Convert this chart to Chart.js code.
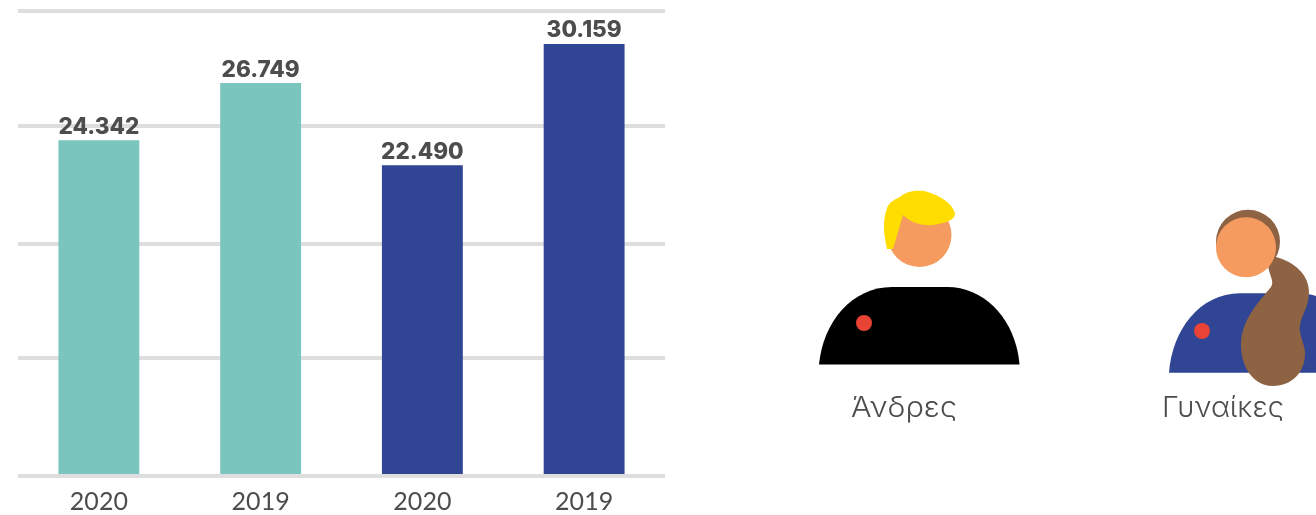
<!DOCTYPE html>
<html>
<head>
<meta charset="utf-8">
<style>
  html, body { margin: 0; padding: 0; background: #fff; width: 1316px; height: 515px; overflow: hidden; }
  #wrap { position: relative; width: 1316px; height: 515px; overflow: hidden; }
  #chart { position: absolute; left: 0; top: 0; }
  #people { position: absolute; left: 0; top: 0; }
</style>
<script src="https://cdn.jsdelivr.net/npm/chart.js@4/dist/chart.umd.min.js"></script>
</head>
<body>
<div id="wrap">
  <canvas id="chart" width="1316" height="528"></canvas>
  <svg id="people" width="1316" height="515" viewBox="0 0 1316 515">
    <!-- man -->
    <circle cx="919.5" cy="235" r="32" fill="#f59b5f"/>
    <path d="M887 249 C884 235 882 222 887 208 C890 201 896 199 900 197 C908 190 920 190 928 192 C940 196 952 203 955 213 C955 219 950 222 934 225 C920 226 910 222 903 215 L893 249 Z" fill="#ffdd00"/>
    <path d="M819 364.5 C823 322 852 287 892 287 L947 287 C987 287 1016 322 1019.5 364.5 Z" fill="#000"/>
    <circle cx="864" cy="323" r="8" fill="#e94335"/>
    <text x="851" y="417" textLength="106" lengthAdjust="spacingAndGlyphs" font-family="Inter, sans-serif" font-size="28" font-weight="300" fill="#4d4d4d">Άνδρες</text>
    <!-- woman -->
    <path d="M1169 372.7 C1172 330 1200 293.3 1240 293.3 L1298 293.3 C1338 293.3 1366 330 1369 372.7 Z" fill="#304594"/>
    <circle cx="1202" cy="331" r="8" fill="#e94335"/>
    <circle cx="1248" cy="241.7" r="32" fill="#8e6344"/>
    <path d="M1275 256.7 C1295 262 1309 275 1309 292 C1309 310 1298 318 1300 332 C1302 342 1305 345 1305 354 C1305 372 1292 386 1273 386 C1254 386 1241 368 1241 345 C1241 320 1258 303 1271 287 C1275 280 1268 275 1268 262 Z" fill="#8e6344"/>
    <circle cx="1246" cy="247.3" r="30" fill="#f59b5f"/>
    <text x="1162" y="417" textLength="122" lengthAdjust="spacingAndGlyphs" font-family="Inter, sans-serif" font-size="28" font-weight="300" fill="#4d4d4d">Γυναίκες</text>
  </svg>
</div>
<script>
// Categories and value labels as printed
const categories = ["2020", "2019", "2020", "2019"];
const valueLabels = ["24.342", "26.749", "22.490", "30.159"];
// Bar heights (the drawn bars are not exactly in proportion to the printed numbers)
const barHeights = [23100, 27040, 21380, 29730];
const barColors = ["#7ac6bf", "#7ac6bf", "#304594", "#304594"];
// Gridline levels
const gridLevels = [0, 8140, 16000, 24100, 32000];

// Value labels above the bars
const barLabels = {
  id: "barLabels",
  afterDatasetsDraw(chart) {
    const ctx = chart.ctx;
    const meta = chart.getDatasetMeta(0);
    ctx.save();
    ctx.font = "800 22.5px Inter, sans-serif";
    ctx.fillStyle = "#4d4d4d";
    ctx.textAlign = "center";
    ctx.textBaseline = "alphabetic";
    meta.data.forEach((bar, i) => {
      ctx.fillText(valueLabels[i], bar.x, bar.y - 6.5);
    });
    ctx.restore();
  },
};

new Chart(document.getElementById("chart"), {
  type: "bar",
  data: {
    labels: categories,
    datasets: [
      {
        data: barHeights,
        backgroundColor: barColors,
        borderWidth: 0,
        barPercentage: 0.5,
        categoryPercentage: 1,
      },
    ],
  },
  options: {
    responsive: false,
    animation: false,
    layout: {
      padding: { left: 18, right: 651, top: 11, bottom: 0 },
    },
    scales: {
      x: {
        grid: { display: false, drawTicks: false },
        border: { display: false },
        ticks: {
          color: "#4d4d4d",
          padding: 11,
          maxRotation: 0,
          font: { family: "Lato, sans-serif", size: 25 },
        },
      },
      y: {
        min: 0,
        max: 32000,
        afterBuildTicks(axis) {
          axis.ticks = gridLevels.map((value) => ({ value }));
        },
        grid: { color: "#dedede", lineWidth: 4, drawTicks: false },
        border: { display: false },
        ticks: { display: false },
      },
    },
    plugins: {
      legend: { display: false },
      tooltip: { enabled: false },
    },
  },
  plugins: [barLabels],
});
</script>
</body>
</html>
